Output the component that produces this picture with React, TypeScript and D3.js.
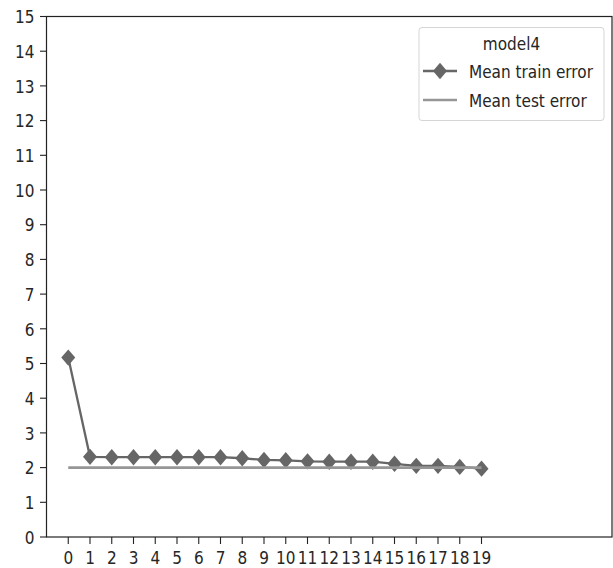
import React from "react";
import * as d3 from "d3";

const epochs = [0, 1, 2, 3, 4, 5, 6, 7, 8, 9, 10, 11, 12, 13, 14, 15, 16, 17, 18, 19];
const trainError = [5.17, 2.31, 2.3, 2.3, 2.3, 2.3, 2.3, 2.3, 2.27, 2.22, 2.21, 2.18, 2.17, 2.17, 2.17, 2.11, 2.05, 2.05, 2.02, 1.97];
const testError = [2.0, 2.0, 2.0, 2.0, 2.0, 2.0, 2.0, 2.0, 2.0, 2.0, 2.0, 2.0, 2.0, 2.0, 2.0, 2.0, 2.0, 2.0, 2.0, 2.0];
const yTicks = [0, 1, 2, 3, 4, 5, 6, 7, 8, 9, 10, 11, 12, 13, 14, 15];
const legendTitle = "model4";
const seriesNames = ["Mean train error", "Mean test error"];

const W = 613;
const H = 568;
const left = 46.5, right = 612, top = 16.5, bottom = 537;
const trainColor = "#666666";
const testColor = "#969696";
const textColor = "#262626";
const FONT = "DejaVu Sans";
const FS = 18;
const SX = 0.85;

function diamond(rx: number, ry: number) {
  const p = d3.path();
  p.moveTo(0, -ry);
  p.lineTo(rx, 0);
  p.lineTo(0, ry);
  p.lineTo(-rx, 0);
  p.closePath();
  return p.toString();
}

function Txt(props: { x: number; y: number; anchor?: string; children: React.ReactNode }) {
  const { x, y, anchor = "start", children } = props;
  return (
    <g transform={`translate(${x},${y}) scale(${SX},1)`}>
      <text x={0} y={0} textAnchor={anchor} fontFamily={FONT} fontSize={FS} fill={textColor}>
        {children}
      </text>
    </g>
  );
}

export default function App() {
  const x = d3.scaleLinear().domain([-1, 25]).range([left, right]);
  const y = d3.scaleLinear().domain([0, 15]).range([bottom, top]);
  const line = d3
    .line<number>()
    .x((_, i) => x(epochs[i]))
    .y((d) => y(d));
  const dPath = diamond(7, 8.2);

  return (
    <svg width={W} height={H} style={{ position: "absolute", left: 0, top: 0, background: "#fff" }}>
      <rect x={0} y={0} width={W} height={H} fill="#fff" />
      {/* train */}
      <path d={line(trainError) || ""} fill="none" stroke={trainColor} strokeWidth={2.3} />
      {trainError.map((v, i) => (
        <path key={i} d={dPath} transform={`translate(${x(epochs[i])},${y(v)})`} fill={trainColor} />
      ))}
      {/* test */}
      <path d={line(testError) || ""} fill="none" stroke={testColor} strokeWidth={2.6} />

      {/* spines */}
      <rect x={left} y={top} width={right - left} height={bottom - top} fill="none" stroke="#222" strokeWidth={1.2} />

      {/* y ticks */}
      {yTicks.map((t) => (
        <g key={t}>
          <line x1={left - 6.5} x2={left} y1={y(t)} y2={y(t)} stroke="#222" strokeWidth={1.1} />
          <Txt x={left - 12} y={y(t) + 6.7} anchor="end">
            {t}
          </Txt>
        </g>
      ))}
      {/* x ticks */}
      {epochs.map((t) => (
        <g key={t}>
          <line x1={x(t)} x2={x(t)} y1={bottom} y2={bottom + 7} stroke="#222" strokeWidth={1.1} />
          <Txt x={x(t)} y={bottom + 26.6} anchor="middle">
            {t}
          </Txt>
        </g>
      ))}

      {/* legend */}
      <rect x={419} y={27.5} width={185} height={93} rx={3} fill="#fff" fillOpacity={0.85} stroke="#d5d5d5" strokeWidth={1} />
      <Txt x={511.5} y={50} anchor="middle">
        {legendTitle}
      </Txt>
      <line x1={423} x2={457} y1={71} y2={71} stroke={trainColor} strokeWidth={2.3} />
      <path d={dPath} transform="translate(440,71)" fill={trainColor} />
      <Txt x={469} y={78}>
        {seriesNames[0]}
      </Txt>
      <line x1={423} x2={457} y1={100} y2={100} stroke={testColor} strokeWidth={2.6} />
      <Txt x={469} y={107}>
        {seriesNames[1]}
      </Txt>
    </svg>
  );
}
